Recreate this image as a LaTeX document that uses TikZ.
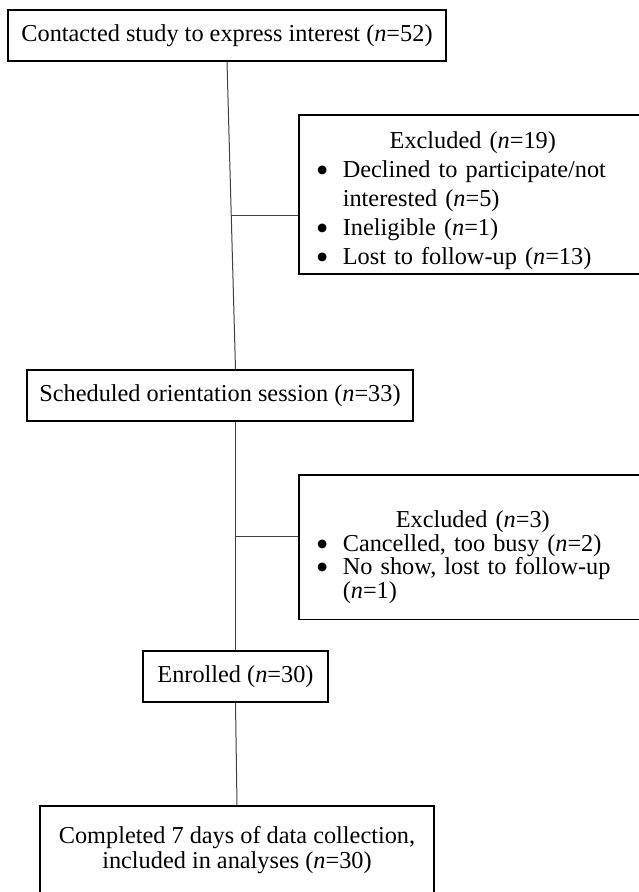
\documentclass[tikz,border=0pt]{standalone}
\usepackage{fontspec}
\setmainfont{Liberation Serif}
\usetikzlibrary{calc}

\newcommand{\bul}{\makebox[26pt][l]{\hspace{-1pt}\smash{\raisebox{-5pt}{\scalebox{1.5}{\textbullet}}}}}
\newcommand{\cont}{\hspace*{26pt}}

\tikzset{
  flowbox/.style={draw=black, line width=1.6pt, minimum height=51pt, inner sep=0pt,
    align=center, font=\fontsize{24.3}{25}\selectfont},
  exclbox/.style={draw=black, line width=1.6pt, anchor=north west, text width=312pt,
    inner xsep=18pt, inner ysep=0pt, align=left},
  link/.style={line width=1pt, draw=black!75}
}

\begin{document}
\begin{tikzpicture}[x=1pt,y=-1pt]
\useasboundingbox (0,0) rectangle (639,892);
\clip (0,0) rectangle (639,892);
\fill[white] (0,0) rectangle (639,892);

% main stages
\node[flowbox, minimum width=438pt] (contact) at (227,35.5) {Contacted study to express interest (\textit{n}=52)};
\node[flowbox, minimum width=386pt] (sched) at (220,395.5) {Scheduled orientation session (\textit{n}=33)};
\node[flowbox, minimum width=185pt] (enrol) at (235.5,676.5) {Enrolled (\textit{n}=30)};
\node[flowbox, minimum width=394pt, minimum height=88pt] (done) at (237,850) {Completed 7 days of data collection,\\included in analyses (\textit{n}=30)};

% exclusions
\node[exclbox, font=\fontsize{24.3}{29}\selectfont] (excl1) at (298,114) {%
  \makebox[312pt]{\rule{0pt}{34pt}Excluded (\textit{n}=19)}\\
  \bul Declined to participate/not\\
  \cont interested (\textit{n}=5)\\
  \bul Ineligible (\textit{n}=1)\\
  \bul Lost to follow-up (\textit{n}=13)\rule[-9pt]{0pt}{9pt}};
\node[exclbox, font=\fontsize{24.3}{23.5}\selectfont] (excl2) at (298,474) {%
  \makebox[312pt]{\rule{0pt}{53pt}Excluded (\textit{n}=3)}\\
  \bul Cancelled, too busy (\textit{n}=2)\\
  \bul No show, lost to follow-up\\
  \cont (\textit{n}=1)\rule[-21pt]{0pt}{21pt}};

\draw[link] (contact.south) -- (sched.north -| enrol.north);
\draw[link] (sched.south -| enrol.north) -- (enrol.north);
\draw[link] (enrol.south) -- (done.north);

\coordinate (j1) at ($(contact.south)!0.5!(sched.north -| enrol.north)$);
\coordinate (j2) at ($(sched.south -| enrol.north)!0.5!(enrol.north)$);
\draw[link] (j1) -- (j1 -| excl1.west);
\draw[link] (j2) -- (j2 -| excl2.west);
\end{tikzpicture}
\end{document}
